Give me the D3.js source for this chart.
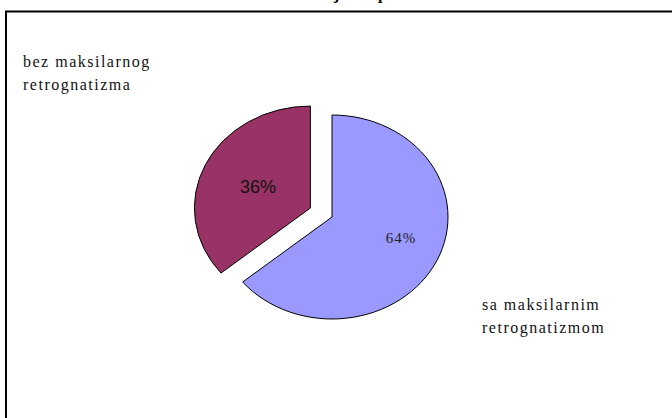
<!DOCTYPE html>
<html><head><meta charset="utf-8">
<script src="https://cdn.jsdelivr.net/npm/d3@7"></script>
<style>html,body{margin:0;padding:0;background:#fff;}svg{display:block;}</style>
</head><body>
<svg id="chart" width="672" height="418"></svg>
<script>
const categories = ["sa maksilarnim retrognatizmom", "bez maksilarnog retrognatizma"];
const values = [64, 36];
const colors = ["#9999FF", "#993366"];
const labelLines = [["sa maksilarnim", "retrognatizmom"], ["bez maksilarnog", "retrognatizma"]];
const title = "Prevalencija ukupno";

const serif = "'Liberation Serif', 'Times New Roman', serif";
const sans = "'Liberation Sans', Arial, sans-serif";

const svg = d3.select("#chart");
svg.append("rect").attr("x", 6).attr("y", 11.5).attr("width", 700).attr("height", 500)
  .attr("fill", "#fff").attr("stroke", "#000").attr("stroke-width", 2);

svg.append("text").attr("x", 333).attr("y", -1).attr("text-anchor", "middle")
  .style("font-family", serif).attr("font-weight", "bold")
  .attr("font-size", 16).text(title);

const cx = 332, cy = 217, r = 102, sx = 116 / 102;
const pie = d3.pie().sort(null).value(d => d);
const arcs = pie(values);
const arc = d3.arc().innerRadius(0).outerRadius(r);
const explode = [0, 21];

const g = svg.append("g").attr("transform", `translate(${cx},${cy}) scale(${sx},1)`);
arcs.forEach((a, i) => {
  const mid = (a.startAngle + a.endAngle) / 2;
  const dx = Math.sin(mid) * explode[i], dy = -Math.cos(mid) * explode[i];
  g.append("path").attr("d", arc(a)).attr("transform", `translate(${dx},${dy})`)
    .attr("fill", colors[i]).attr("stroke", "#000").attr("stroke-width", 1)
    .attr("vector-effect", "non-scaling-stroke");
});

// percentage labels
const pctPos = [[401, 243], [258, 193]];
svg.append("text").attr("x", pctPos[0][0]).attr("y", pctPos[0][1]).attr("text-anchor", "middle")
  .style("font-family", serif).attr("font-size", 15)
  .attr("letter-spacing", 1).attr("fill", "#222").text(values[0] + "%");
svg.append("text").attr("x", pctPos[1][0]).attr("y", pctPos[1][1]).attr("text-anchor", "middle")
  .style("font-family", sans).attr("font-size", 18)
  .attr("fill", "#111").text(values[1] + "%");

// category labels
const catPos = [[482, 309.5], [23, 66.5]];
labelLines.forEach((lines, i) => {
  lines.forEach((t, j) => {
    svg.append("text").attr("x", catPos[i][0]).attr("y", catPos[i][1] + j * 23)
      .style("font-family", serif).attr("font-size", 16)
      .attr("letter-spacing", 1.5).attr("fill", "#111").text(t);
  });
});
</script>
</body></html>
